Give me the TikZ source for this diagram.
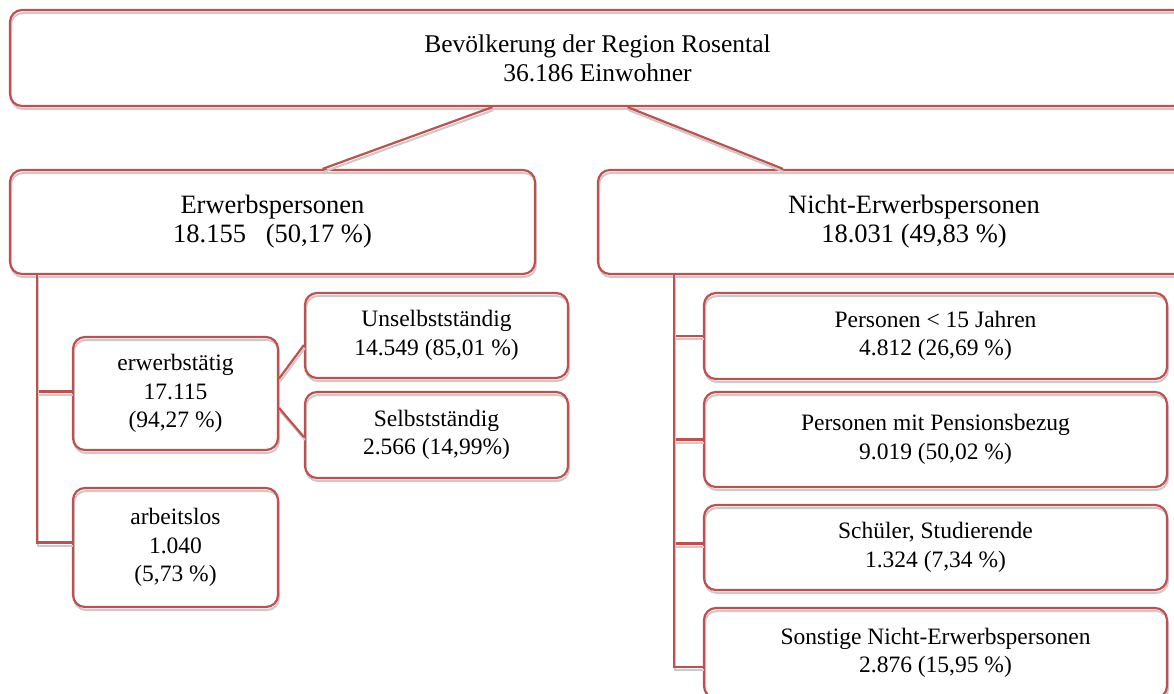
\documentclass[tikz,border=0pt]{standalone}
\usepackage{fontspec}
\setmainfont{Liberation Serif}
\definecolor{boxred}{HTML}{C0504D}
\definecolor{shade}{HTML}{CACACA}

\begin{document}
\begin{tikzpicture}
[
    x=1pt, y=-1pt,
    shadowed/.style={preaction={draw=shade, line width=2pt, transform canvas={shift={(1pt,-3pt)}}}},
    box/.style={rectangle, rounded corners=12pt, draw=boxred, line width=2.2pt, shadowed, align=center, inner sep=0pt, font=\fontsize{26.5}{29}\selectfont},
    smallbox/.style={box, font=\fontsize{23.5}{28.5}\selectfont},
    link/.style={draw=boxred, line width=2.2pt, shadowed},
]
    \useasboundingbox (0,0) rectangle (1174,693);

    \node[box, minimum width=1175pt, minimum height=96pt, font=\fontsize{25.5}{29}\selectfont] (pop) at (597.5, 58) {Bevölkerung der Region Rosental\\36.186 Einwohner};

    \node[box, minimum width=525pt, minimum height=104pt] (erw) at (272.5, 222) {Erwerbspersonen\\18.155\ \ \ (50,17 \%)};
    \node[box, minimum width=632pt, minimum height=104pt] (nerw) at (914, 222) {Nicht-Erwerbspersonen\\18.031 (49,83 \%)};

    \node[smallbox, minimum width=205pt, minimum height=113pt] (taetig) at (175.5, 393.5) {erwerbstätig\\17.115\\(94,27 \%)};
    \node[smallbox, minimum width=205pt, minimum height=119pt] (alos) at (175.5, 547.5) {arbeitslos\\1.040\\(5,73 \%)};
    \node[smallbox, minimum width=263pt, minimum height=85pt] (unselb) at (436.5, 335.5) {Unselbstständig\\14.549 (85,01 \%)};
    \node[smallbox, minimum width=263pt, minimum height=86pt] (selb) at (436.5, 435) {Selbstständig\\2.566 (14,99\%)};

    \node[smallbox, minimum width=463pt, minimum height=86pt] (kinder) at (935.5, 336) {Personen < 15 Jahren\\4.812 (26,69 \%)};
    \node[smallbox, minimum width=463pt, minimum height=95pt] (pension) at (935.5, 439.5) {Personen mit Pensionsbezug\\9.019 (50,02 \%)};
    \node[smallbox, minimum width=463pt, minimum height=85pt] (schule) at (935.5, 547.5) {Schüler, Studierende\\1.324 (7,34 \%)};
    \node[smallbox, minimum width=463pt, minimum height=90pt] (sonst) at (935.5, 653) {Sonstige Nicht-Erwerbspersonen\\2.876 (15,95 \%)};

    % top level
    \draw[link] ([xshift=-105pt]pop.south) -- ([xshift=50pt]erw.north);
    \draw[link] ([xshift=30pt]pop.south) -- ([xshift=-131pt]nerw.north);

    % Erwerbspersonen
    \draw[link] ([xshift=28pt]erw.south west) |- ([yshift=2pt]taetig.west);
    \draw[link] ([xshift=28pt]erw.south west) |- ([yshift=5pt]alos.west);
    \draw[link] ([yshift=15pt]taetig.east) -- ([yshift=-9.5pt]unselb.west);
    \draw[link] ([yshift=-14.5pt]taetig.east) -- ([yshift=-2pt]selb.west);

    % Nicht-Erwerbspersonen
    \draw[link] ([xshift=77pt]nerw.south west) |- (kinder.west);
    \draw[link] ([xshift=77pt]nerw.south west) |- (pension.west);
    \draw[link] ([xshift=77pt]nerw.south west) |- ([yshift=4pt]schule.west);
    \draw[link] ([xshift=77pt]nerw.south west) |- ([yshift=-14pt]sonst.west);
\end{tikzpicture}
\end{document}
